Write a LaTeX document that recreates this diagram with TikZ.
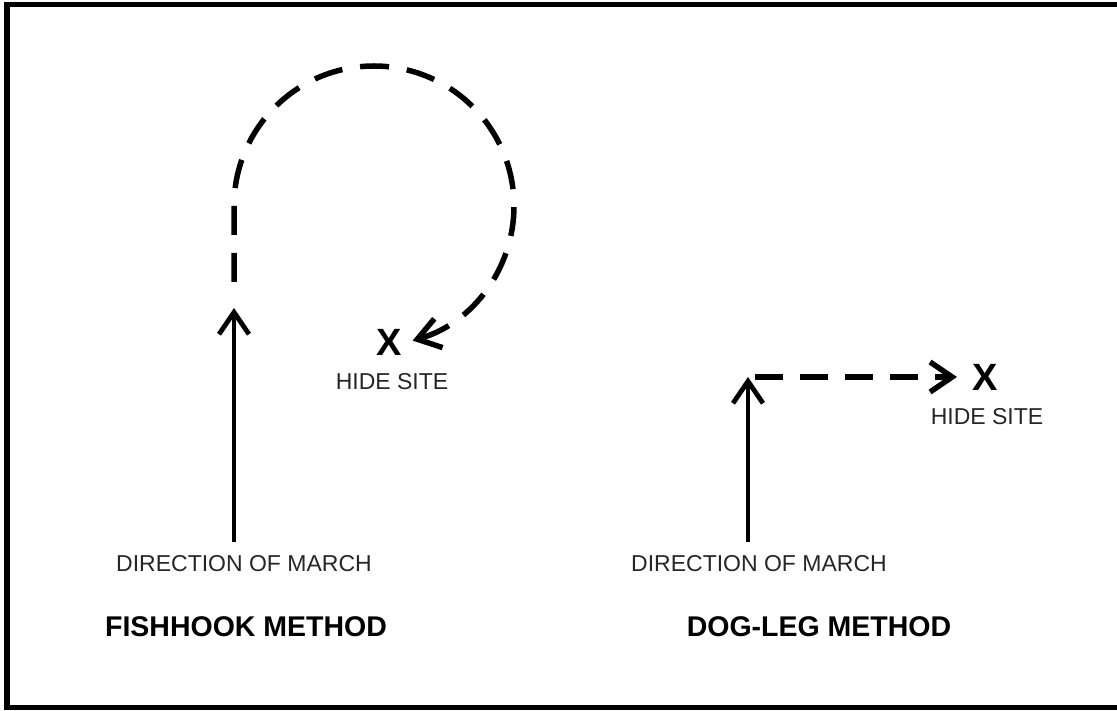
\documentclass[tikz,border=0pt]{standalone}
\usepackage{fontspec}
\setmainfont{Liberation Sans}
\usetikzlibrary{arrows.meta}
\begin{document}
\begin{tikzpicture}[x=1pt,y=1pt,
  tipped/.style={-{Straight Barb[length=22pt,width=30pt]}},
  route/.style={line width=5.5pt, dash pattern=on 29pt off 18pt},
  march/.style={line width=4.8pt},
  lbl/.style={inner sep=0pt, text=black!85, font=\fontsize{23}{23}\selectfont},
  title/.style={inner sep=0pt, font=\bfseries\fontsize{28.5}{28.5}\selectfont},
  site/.style={inner sep=0pt, font=\bfseries\fontsize{38}{38}\selectfont}]
\useasboundingbox (0,0) rectangle (1117,710);
\draw[line width=5.5pt] (7,2.5) rectangle (1120,705.5);

% ---------- Fishhook method ----------
\node[lbl]   (dirL)  at (244,146.5) {DIRECTION OF MARCH};
\node[title] (fish)  at (246,83)    {FISHHOOK METHOD};
\node[site]  (xL)    at (389,367.5) {X};
\node[lbl]   (hideL) at (392,328)   {HIDE SITE};
\coordinate (fb) at (234,168);
\coordinate (ft) at (234,402);
\coordinate (hs) at (234,428);
\draw[march,tipped] (fb) -- (ft);
\draw[route,tipped] (hs) -- (234,504) arc[start angle=180, end angle=-74, radius=140pt];

% ---------- Dog-leg method ----------
\node[lbl]   (dirR)  at (759,146.5) {DIRECTION OF MARCH};
\node[title] (dog)   at (819,83)    {DOG-LEG METHOD};
\node[site]  (xR)    at (985,333)   {X};
\node[lbl]   (hideR) at (987,293)   {HIDE SITE};
\coordinate (rb) at (748,168);
\coordinate (rt) at (748,333);
\coordinate (ds) at (755,333);
\coordinate (de) at (957,333);
\draw[march,tipped] (rb) -- (rt);
\draw[route,dash pattern=on 28pt off 17pt,tipped] (ds) -- (de);
\end{tikzpicture}
\end{document}
